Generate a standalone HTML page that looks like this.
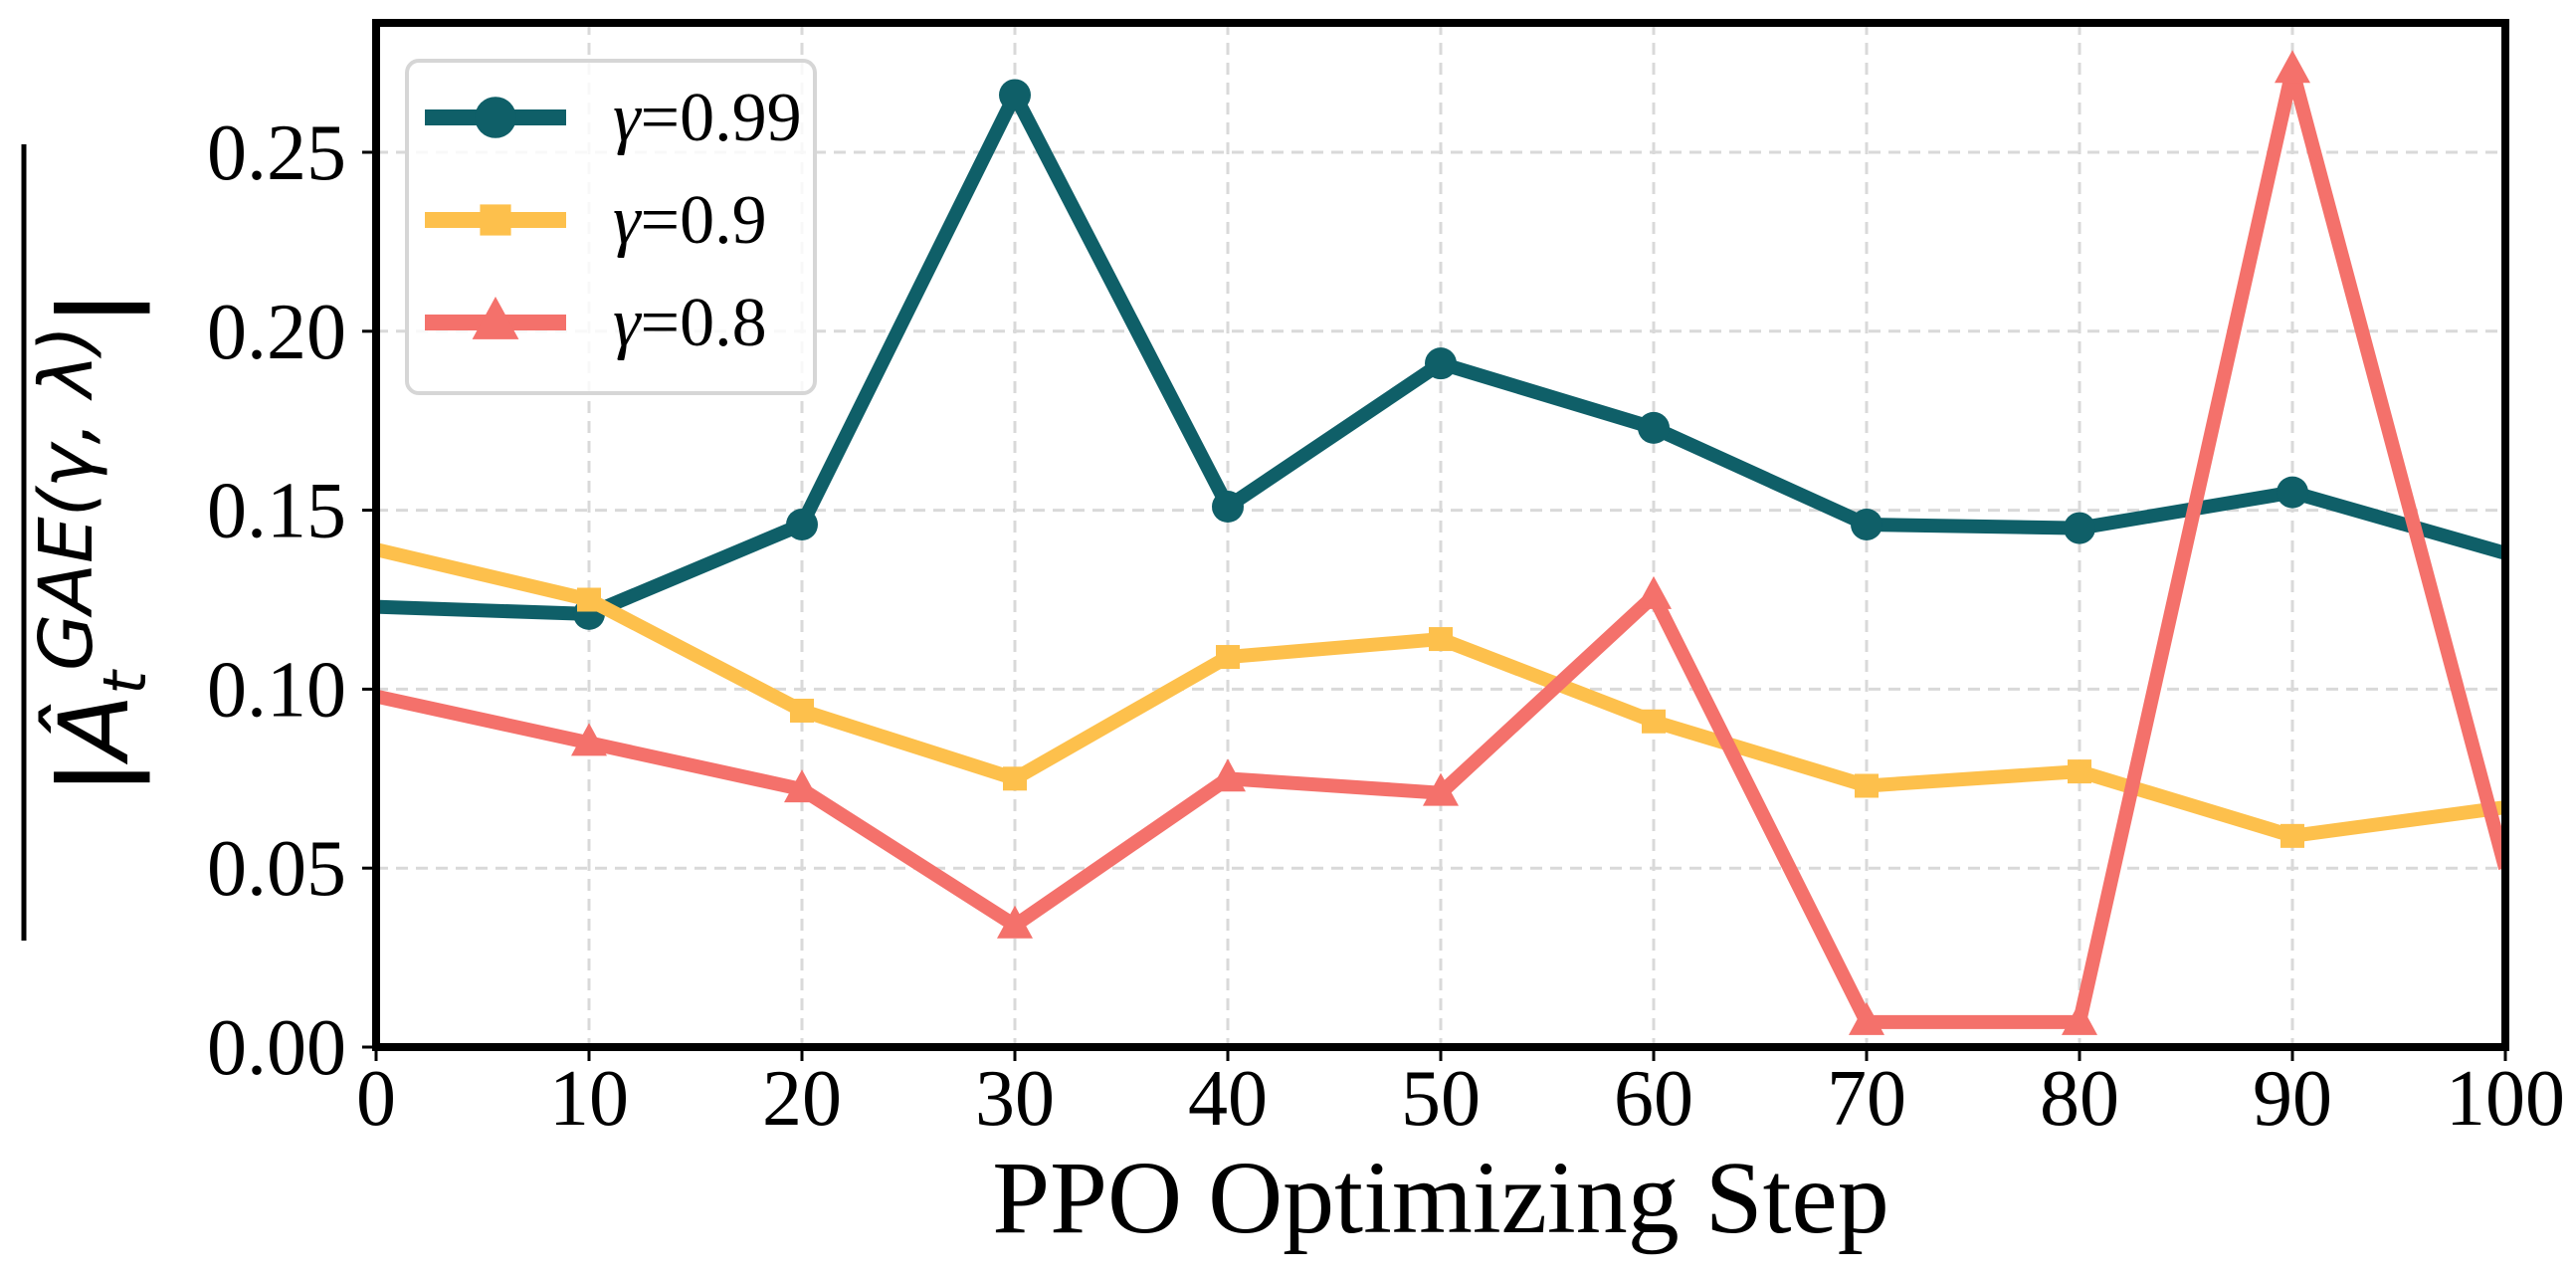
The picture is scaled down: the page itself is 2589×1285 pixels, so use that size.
<!DOCTYPE html>
<html><head><meta charset="utf-8"><style>html,body{margin:0;padding:0;background:#fff}svg{display:block}</style></head>
<body>
<svg id="chart" width="2589" height="1285" xmlns="http://www.w3.org/2000/svg">
<defs><clipPath id="plotclip"><rect x="378" y="23" width="2140" height="1029"/></clipPath></defs>
<g id="grid"></g>
<g id="series" clip-path="url(#plotclip)"></g>
<rect x="378" y="23" width="2140" height="1029" fill="none" stroke="#000" stroke-width="8"/>
<g id="ticks"></g>
<text x="1448" y="1238" font-family="Liberation Serif, serif" font-size="104" text-anchor="middle">PPO Optimizing Step</text>
<g transform="translate(128,545) rotate(-90)">
<text x="0" y="0" font-family="DejaVu Sans, sans-serif" font-size="96" text-anchor="middle"><tspan font-weight="bold">|</tspan><tspan font-style="italic">Â</tspan><tspan font-style="italic" font-size="60" dy="18">t</tspan><tspan font-style="italic" font-size="74" dy="-54">GAE(γ, λ)</tspan><tspan font-weight="bold" font-size="96" dy="36">|</tspan></text>
<line x1="-400" y1="-104" x2="400" y2="-104" stroke="#000" stroke-width="5"/>
</g>
<g id="legend">
<rect x="409" y="61" width="410" height="334" rx="12" fill="#fff" fill-opacity="0.8" stroke="#d6d6d6" stroke-width="4"/>
</g>
</svg>
<script>
const steps = [0,10,20,30,40,50,60,70,80,90,100];
const g099 = [0.123,0.121,0.146,0.266,0.151,0.191,0.173,0.146,0.145,0.155,0.138];
const g09 = [0.139,0.125,0.094,0.075,0.109,0.114,0.091,0.073,0.077,0.059,0.067];
const g08 = [0.098,0.085,0.072,0.034,0.075,0.071,0.126,0.007,0.007,0.273,0.050];
const xTicks = [0,10,20,30,40,50,60,70,80,90,100];
const yTicks = [0,0.05,0.10,0.15,0.20,0.25];
const yTickLabels = ["0.00","0.05","0.10","0.15","0.20","0.25"];
const seriesNames = ["γ=0.99","γ=0.9","γ=0.8"];

const NS="http://www.w3.org/2000/svg";
const XMIN=0, XMAX=100;
const X=v=>378+(v-XMIN)*(2518-378)/(XMAX-XMIN);
const Y=v=>1052-v*3596;
function mk(tag,attrs,parent){const e=document.createElementNS(NS,tag);for(const k in attrs)e.setAttribute(k,attrs[k]);parent.appendChild(e);return e;}
const grid=document.getElementById('grid'),ticks=document.getElementById('ticks'),ser=document.getElementById('series'),leg=document.getElementById('legend');
xTicks.forEach(t=>{
  const l=mk('line',{x1:X(t),x2:X(t),y1:23,y2:1052,stroke:'#d9d9d9','stroke-width':3,'stroke-dasharray':'12,8'},grid);
  
  
  const tk=mk('line',{x1:X(t),x2:X(t),y1:1052,y2:1066,stroke:'#000','stroke-width':3},ticks);
  
  
  const tx=mk('text',{x:X(t),y:1130,'font-family':'Liberation Serif, serif','font-size':80,'text-anchor':'middle'},ticks);
  tx.textContent=t;
  
  
});
yTicks.forEach((t,i)=>{
  const l=mk('line',{x1:378,x2:2518,y1:Y(t),y2:Y(t),stroke:'#d9d9d9','stroke-width':3,'stroke-dasharray':'12,8'},grid);
  
  
  const tk=mk('line',{x1:364,x2:378,y1:Y(t),y2:Y(t),stroke:'#000','stroke-width':3},ticks);
  
  
  const tx=mk('text',{x:348,y:Y(t)+27,'font-family':'Liberation Serif, serif','font-size':80,'text-anchor':'end'},ticks);
  tx.textContent=yTickLabels[i];
  
  
});
function marker(type,x,y,color,parent,s){
  let e;
  if(type==='circle') e=mk('circle',{cx:x,cy:y,r:16*s,fill:color},parent);
  else if(type==='square') e=mk('rect',{x:x-12*s,y:y-12*s,width:24*s,height:24*s,fill:color},parent);
  else e=mk('polygon',{points:`${x},${y-20*s} ${x-18*s},${y+13*s} ${x+18*s},${y+13*s}`,fill:color},parent);
  return e;
}
const defs=[[g099,'#0f5f68','circle'],[g09,'#fdc04c','square'],[g08,'#f4716b','triangle']];
defs.forEach(([vals,color,m],si)=>{
  const g=mk('g',{},ser);
  
  
  const p=mk('polyline',{points:steps.map((s,i)=>X(s)+','+Y(vals[i])).join(' '),fill:'none',stroke:color,'stroke-width':14,'stroke-linejoin':'round'},g);
  
  
  steps.forEach((s,i)=>{
    if(s<=XMIN||s>=XMAX) return;
    const e=marker(m,X(s),Y(vals[i]),color,g,1);
    
    
  });
  const ly=118+si*103;
  const lg=mk('g',{},leg);
  
  
  mk('line',{x1:427,x2:569,y1:ly,y2:ly,stroke:color,'stroke-width':16},lg);
  marker(m,498,ly,color,lg,1.3);
  const t=mk('text',{x:616,y:ly+23,'font-family':'Liberation Serif, serif','font-size':70},lg);
  t.innerHTML='<tspan font-style="italic">γ</tspan>='+seriesNames[si].slice(2);
});
</script>
</body></html>
